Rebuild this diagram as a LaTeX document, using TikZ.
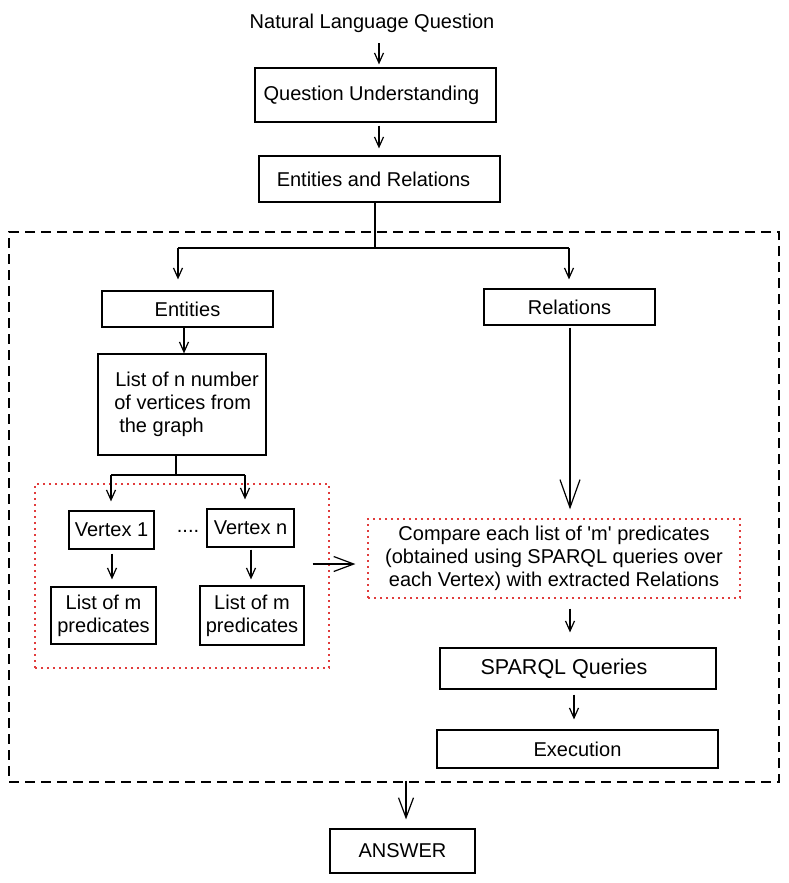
\documentclass[tikz,border=0pt]{standalone}
\usepackage{fontspec}
\setmainfont{Liberation Sans}
\usetikzlibrary{arrows.meta}
\definecolor{reddot}{RGB}{225,60,60}
\begin{document}
\begin{tikzpicture}[x=1pt,y=-1pt,
  line width=1.2pt,
  font=\fontsize{20}{23}\selectfont,
  box/.style={draw, rectangle, inner sep=0pt, align=center},
  arr/.style={-{Straight Barb[length=10pt,width=9pt]}},
  bigarr/.style={-{Straight Barb[length=20pt,width=15pt]}},
  hugearr/.style={-{Straight Barb[length=28pt,width=20pt]}},
  reddash/.style={draw=reddot, dash pattern=on 2pt off 4pt, line width=1.2pt}
]
\useasboundingbox (0,0) rectangle (789,883);
% outer dashed region
\node[draw, dash pattern=on 10pt off 6pt, minimum width=770pt, minimum height=550pt, inner sep=0pt] (region) at (394,507) {};
% red dotted group
\node[reddash, minimum width=294pt, minimum height=184pt, inner sep=0pt] (group) at (182,576) {};

\node (nlq) at (372,23) {Natural Language Question};
\node[box, minimum width=241pt, minimum height=54pt] (qu) at (375.5,95) {\hspace*{-8pt}Question Understanding};
\node[box, minimum width=241pt, minimum height=46pt] (er) at (379.5,179) {\hspace*{-12pt}Entities and Relations};
\node[box, minimum width=171pt, minimum height=36pt] (ent) at (187.5,309) {Entities};
\node[box, minimum width=171pt, minimum height=36pt] (rel) at (569.5,307) {Relations};
\node[box, minimum width=168pt, minimum height=101pt, align=left] (list) at (182,404.5) {\hspace*{4pt}List of n number\hspace*{-6pt}\\\hspace*{3pt}of vertices from\\\hspace*{8pt}the graph};
\node[box, minimum width=85pt, minimum height=38pt] (v1) at (111.5,530) {Vertex 1};
\node (dots) at (188,531) {....};
\node[box, minimum width=87pt, minimum height=38pt] (vn) at (250.5,528) {Vertex n};
\node[box, minimum width=105pt, minimum height=57pt] (p1) at (103.5,615.5) {List of m\\predicates};
\node[box, minimum width=104pt, minimum height=59pt] (p2) at (252,615.5) {List of m\\predicates};
\node[reddash, minimum width=372pt, minimum height=79pt, inner sep=0pt, align=center] (cmp) at (554,558.5) {Compare each list of \textquotesingle m\textquotesingle{} predicates\\(obtained using SPARQL queries over\\each Vertex) with extracted Relations};
\node[box, minimum width=276pt, minimum height=41pt, font=\fontsize{21.5}{25}\selectfont] (sparql) at (578,668.5) {\hspace*{-28pt}SPARQL Queries};
\node[box, minimum width=281pt, minimum height=38pt] (exec) at (577.5,749) {Execution};
\node[box, minimum width=145pt, minimum height=44pt] (ans) at (402.5,851) {ANSWER};

% junction coordinates
\coordinate (split) at (375,248);
\coordinate (splitL) at (178,248);
\coordinate (splitR) at (569,248);
\coordinate (split2) at (176,475);
\coordinate (split2L) at (111,475);
\coordinate (split2R) at (245,475);

% connectors
\draw[arr, shorten <=7pt, shorten >=3pt] (nlq.south -| 379,0) -- (qu.north -| 379,0);
\draw[arr, shorten <=3pt, shorten >=7pt] (qu.south -| 379,0) -- (er.north -| 379,0);
\draw (er.south -| split) -- (split);
\draw (splitL) -- (splitR);
\draw[arr, shorten >=11pt] (splitL) -- (ent.north -| splitL);
\draw[arr, shorten >=9pt] (splitR) -- (rel.north -| splitR);
\draw[arr] (ent.south -| 184,0) -- (list.north -| 184,0);
\draw (list.south -| split2) -- (split2);
\draw (split2L) -- (split2R);
\draw[arr, shorten >=9pt] (split2L) -- (v1.north -| split2L);
\draw[arr, shorten >=9pt] (split2R) -- (vn.north -| split2R);
\draw[arr, shorten <=4pt, shorten >=7pt] (v1.south -| 112,0) -- (p1.north -| 112,0);
\draw[arr, shorten <=2pt, shorten >=6pt] (vn.south -| 251,0) -- (p2.north -| 251,0);
\draw[bigarr, shorten <=-17pt, shorten >=12pt] (group.east |- 0,564) -- (cmp.west |- 0,564);
\draw[hugearr, shorten <=2pt, shorten >=9pt] (rel.south -| 570,0) -- (cmp.north -| 570,0);
\draw[arr, shorten <=10pt, shorten >=15pt] (cmp.south -| 570,0) -- (sparql.north -| 570,0);
\draw[arr, shorten <=5pt, shorten >=10pt] (sparql.south -| 574,0) -- (exec.north -| 574,0);
\draw[bigarr, shorten <=-2pt, shorten >=9pt] (region.south -| 406,0) -- (ans.north -| 406,0);
\end{tikzpicture}
\end{document}
